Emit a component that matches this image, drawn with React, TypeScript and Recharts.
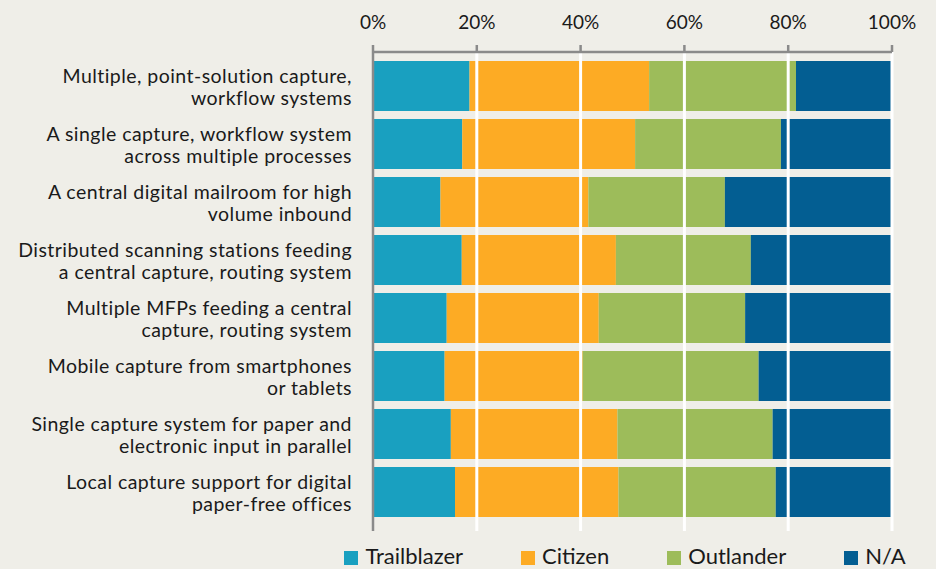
import React from "react";
import { BarChart, Bar, XAxis, YAxis, ReferenceLine, Legend } from "recharts";

// rows, top to bottom; each label is split over two lines like the original
const labelLines: string[][] = [
  ["Multiple, point-solution capture,", "workflow systems"],
  ["A single capture, workflow system", "across multiple processes"],
  ["A central digital mailroom for high", "volume inbound"],
  ["Distributed scanning stations feeding", "a central capture, routing system"],
  ["Multiple MFPs feeding a central", "capture, routing system"],
  ["Mobile capture from smartphones", "or tablets"],
  ["Single capture system for paper and", "electronic input in parallel"],
  ["Local capture support for digital", "paper-free offices"],
];

const trailblazer = [18.6, 17.2, 13.0, 17.1, 14.2, 13.8, 15.0, 15.8];
const citizen = [34.6, 33.3, 28.5, 29.7, 29.3, 26.6, 32.1, 31.5];
const outlander = [28.3, 28.1, 26.3, 26.0, 28.2, 33.9, 29.9, 30.3];
const notApplicable = [18.5, 21.4, 32.2, 27.2, 28.3, 25.7, 23.0, 22.4];

const xTicks = [0, 20, 40, 60, 80, 100];

const series = [
  { key: "trailblazer", name: "Trailblazer", color: "#19a0c0" },
  { key: "citizen", name: "Citizen", color: "#fdab24" },
  { key: "outlander", name: "Outlander", color: "#9dbc5a" },
  { key: "na", name: "N/A", color: "#035e92" },
];

const data = labelLines.map((lines, i) => ({
  name: lines.join(" "),
  trailblazer: trailblazer[i],
  citizen: citizen[i],
  outlander: outlander[i],
  na: notApplicable[i],
}));

const FONT = "Lato, 'Open Sans', sans-serif";
const BG = "#efeee8";
const AXIS = "#8a8a8a";

function CategoryTick(props: any) {
  const { y, payload } = props;
  const lines = labelLines[payload.index] ?? [String(payload.value)];
  return (
    <text x={352} y={y} textAnchor="end" fill="#1a1a1a" fontSize={19.5} letterSpacing={0.45} fontFamily={FONT}>
      <tspan x={352} dy={-3}>{lines[0]}</tspan>
      <tspan x={352} dy={22}>{lines[1]}</tspan>
    </text>
  );
}

function LegendRow() {
  return (
    <div
      style={{
        width: 936,
        height: 38,
        boxSizing: "border-box",
        paddingLeft: 314,
        display: "flex",
        justifyContent: "center",
        alignItems: "center",
        gap: 58,
        whiteSpace: "nowrap",
        fontFamily: FONT,
        fontSize: 22,
        color: "#1a1a1a",
      }}
    >
      {series.map((s) => (
        <div key={s.key} style={{ display: "flex", alignItems: "center", marginTop: 12 }}>
          <span style={{ width: 14, height: 14, background: s.color, marginRight: 7, marginTop: 3 }} />
          <span style={{ lineHeight: "22px" }}>{s.name}</span>
        </div>
      ))}
    </div>
  );
}

export default function App() {
  return (
    <div style={{ position: "absolute", left: 0, top: 0, width: 936, height: 569, background: BG }}>
      <BarChart
        width={936}
        height={569}
        data={data}
        layout="vertical"
        margin={{ top: 0, right: 44, bottom: 0, left: 0 }}
      >
        <XAxis
          type="number"
          orientation="top"
          domain={[0, 100]}
          ticks={xTicks}
          tickFormatter={(v: number) => `${v}%`}
          height={52}
          tickSize={7}
          tickMargin={16}
          axisLine={{ stroke: AXIS, strokeWidth: 2.5 }}
          tickLine={{ stroke: AXIS, strokeWidth: 2.5 }}
          tick={{ fill: "#1a1a1a", fontSize: 19, fontFamily: FONT }}
          interval={0}
        />
        <YAxis
          type="category"
          dataKey="name"
          width={373}
          tickLine={false}
          axisLine={{ stroke: AXIS, strokeWidth: 2.5 }}
          tick={<CategoryTick />}
          padding={{ top: 5, bottom: 10 }}
          interval={0}
        />
        {series.map((s) => (
          <Bar key={s.key} dataKey={s.key} name={s.name} stackId="a" fill={s.color} barSize={50} isAnimationActive={false} />
        ))}
        {xTicks.slice(1).map((t) => (
          <ReferenceLine key={t} x={t} stroke="#ffffff" strokeWidth={3} />
        ))}
        <Legend verticalAlign="bottom" content={<LegendRow />} wrapperStyle={{ left: 0, width: 936 }} />
      </BarChart>
    </div>
  );
}
